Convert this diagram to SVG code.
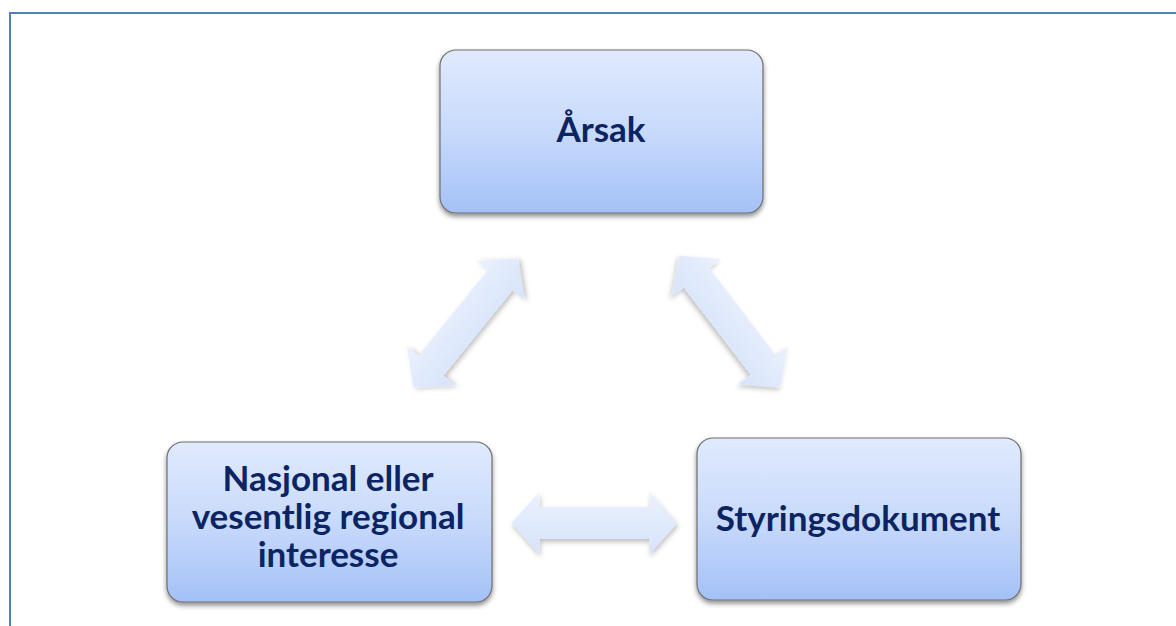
<svg xmlns="http://www.w3.org/2000/svg" width="1176" height="626" viewBox="0 0 1176 626">
<defs>
<linearGradient id="boxg" x1="0" y1="0" x2="0" y2="1">
<stop offset="0" stop-color="#E0EAFD"/>
<stop offset="0.5" stop-color="#C8DAFB"/>
<stop offset="1" stop-color="#A3C1F7"/>
</linearGradient>
<linearGradient id="arrg" x1="0" y1="0" x2="0" y2="1">
<stop offset="0" stop-color="#EBF1FD"/>
<stop offset="1" stop-color="#D6E3FB"/>
</linearGradient>
<filter id="sh" x="-10%" y="-10%" width="120%" height="130%">
<feDropShadow dx="0" dy="3" stdDeviation="2.5" flood-color="#000" flood-opacity="0.45"/>
</filter>
<filter id="ash" x="-20%" y="-30%" width="140%" height="160%">
<feDropShadow dx="1" dy="3" stdDeviation="2.5" flood-color="#000" flood-opacity="0.25"/>
</filter>
<path id="arrow" d="M-83,0 L-55,-31 L-55,-16 L55,-16 L55,-31 L83,0 L55,31 L55,16 L-55,16 L-55,31 Z"/>
</defs>
<style>
.box{fill:url(#boxg);stroke:#6E6E6E;stroke-width:1.2;filter:url(#sh)}
.lbl{font-family:Lato,"Open Sans",sans-serif;font-weight:bold;font-size:35px;fill:#0C2461;text-anchor:middle}
.arr{fill:url(#arrg);filter:url(#ash)}
</style>
<rect x="10" y="13" width="1180" height="630" fill="#fff" stroke="#4F81BD" stroke-width="2"/>
<g id="connectors">
<use href="#arrow" class="arr" transform="translate(465.5,323) rotate(-51)"/>
<use href="#arrow" class="arr" transform="translate(730,321.5) rotate(52.5)"/>
<use href="#arrow" class="arr" transform="translate(594.5,523)"/>
</g>
<g id="node-arsak">
<rect class="box" x="440" y="50" width="323" height="163" rx="16"/>
<text class="lbl" x="601" y="142">Årsak</text>
</g>
<g id="node-nasjonal">
<rect class="box" x="167" y="442" width="325" height="160" rx="16"/>
<text class="lbl" x="328" y="491">Nasjonal eller</text>
<text class="lbl" x="328" y="529">vesentlig regional</text>
<text class="lbl" x="328" y="567">interesse</text>
</g>
<g id="node-styring">
<rect class="box" x="697" y="438" width="324" height="162" rx="16"/>
<text class="lbl" x="858" y="531">Styringsdokument</text>
</g>
</svg>
